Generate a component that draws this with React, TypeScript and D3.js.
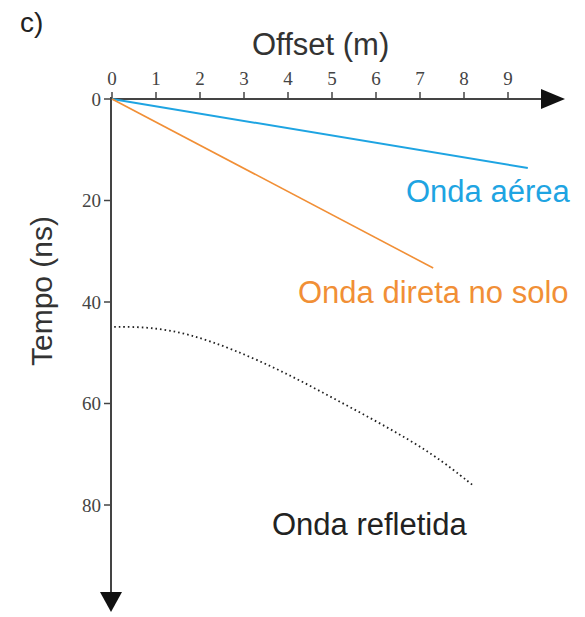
import React from "react";
import * as d3 from "d3";

// Offset ticks (m) and time ticks (ns)
const offsetTicks = [0, 1, 2, 3, 4, 5, 6, 7, 8, 9];
const timeTicks = [0, 20, 40, 60, 80];

// Travel-time curves: [offset m, time ns]
const airWave: [number, number][] = [
  [0, 0],
  [9.45, 13.6],
];
const groundWave: [number, number][] = [
  [0, 0],
  [7.3, 33.3],
];
const reflectedWave: [number, number][] = [
  [0.05, 44.9],
  [0.86, 44.9],
  [1.77, 46.3],
  [2.75, 49.3],
  [3.89, 53.7],
  [5.02, 58.9],
  [6.16, 64.2],
  [7.3, 69.9],
  [8.2, 76.1],
];

const W = 585;
const H = 617;
const SANS = "'Liberation Sans', Arial, Helvetica, sans-serif";
const SERIF = "'Liberation Serif', 'Times New Roman', serif";
const BLUE = "#1ea4e2";
const ORANGE = "#f18f36";
const AXIS = "#444";

export default function App() {
  const x = d3.scaleLinear().domain([0, 9]).range([112, 508]);
  const y = d3.scaleLinear().domain([0, 80]).range([99, 505]);
  const x0 = x(0);
  const y0 = y(0);

  const straight = d3
    .line<[number, number]>()
    .x((d) => x(d[0]))
    .y((d) => y(d[1]));
  const smooth = d3
    .line<[number, number]>()
    .x((d) => x(d[0]))
    .y((d) => y(d[1]))
    .curve(d3.curveBasis);

  const xEnd = 565;
  const yEnd = 612;

  return (
    <svg
      width={W}
      height={H}
      style={{ position: "absolute", left: 0, top: 0, background: "#fff" }}
    >
      {/* panel letter */}
      <text x={20} y={32} fontFamily={SANS} fontSize={28} fill="#222">
        c)
      </text>

      {/* axis titles */}
      <text x={252} y={55} fontFamily={SANS} fontSize={31} fill="#333">
        Offset (m)
      </text>
      <text
        transform={`translate(52,291) rotate(-90)`}
        textAnchor="middle"
        fontFamily={SANS}
        fontSize={30}
        fill="#333"
      >
        Tempo (ns)
      </text>

      {/* horizontal axis with arrow */}
      <line x1={x0} x2={xEnd - 20} y1={y0} y2={y0} stroke={AXIS} strokeWidth={2} />
      <path d={`M${xEnd - 24},${y0 - 10} L${xEnd},${y0} L${xEnd - 24},${y0 + 10} Z`} fill="#111" />
      {offsetTicks.map((t) => (
        <g key={`xt${t}`}>
          <line x1={x(t)} x2={x(t)} y1={y0} y2={y0 - 7} stroke={AXIS} strokeWidth={1.5} />
          <text
            x={x(t)}
            y={85}
            textAnchor="middle"
            fontFamily={SERIF}
            fontSize={19}
            fill="#444"
          >
            {t}
          </text>
        </g>
      ))}

      {/* vertical axis with arrow */}
      <line x1={x0 - 1} x2={x0 - 1} y1={y0 - 2} y2={yEnd - 16} stroke={AXIS} strokeWidth={2} />
      <path d={`M${x0 - 12},${yEnd - 20} L${x0 - 1},${yEnd} L${x0 + 10},${yEnd - 20} Z`} fill="#111" />
      {timeTicks.map((t) => (
        <g key={`yt${t}`}>
          <line x1={x0 - 8} x2={x0 - 1} y1={y(t)} y2={y(t)} stroke={AXIS} strokeWidth={1.5} />
          <text
            x={x0 - 11}
            y={y(t)}
            dy="0.35em"
            textAnchor="end"
            fontFamily={SERIF}
            fontSize={19}
            fill="#444"
          >
            {t}
          </text>
        </g>
      ))}

      {/* travel-time curves */}
      <path d={straight(airWave) ?? ""} fill="none" stroke={BLUE} strokeWidth={2} />
      <path d={straight(groundWave) ?? ""} fill="none" stroke={ORANGE} strokeWidth={1.6} />
      <path
        d={smooth(reflectedWave) ?? ""}
        fill="none"
        stroke="#222"
        strokeWidth={1.8}
        strokeDasharray="1.6 3"
      />

      {/* curve labels */}
      <text x={406} y={202} fontFamily={SANS} fontSize={31} fill={BLUE}>
        Onda aérea
      </text>
      <text x={298} y={303} fontFamily={SANS} fontSize={31} fill={ORANGE}>
        Onda direta no solo
      </text>
      <text x={272} y={535} fontFamily={SANS} fontSize={31} fill="#222">
        Onda refletida
      </text>
    </svg>
  );
}
